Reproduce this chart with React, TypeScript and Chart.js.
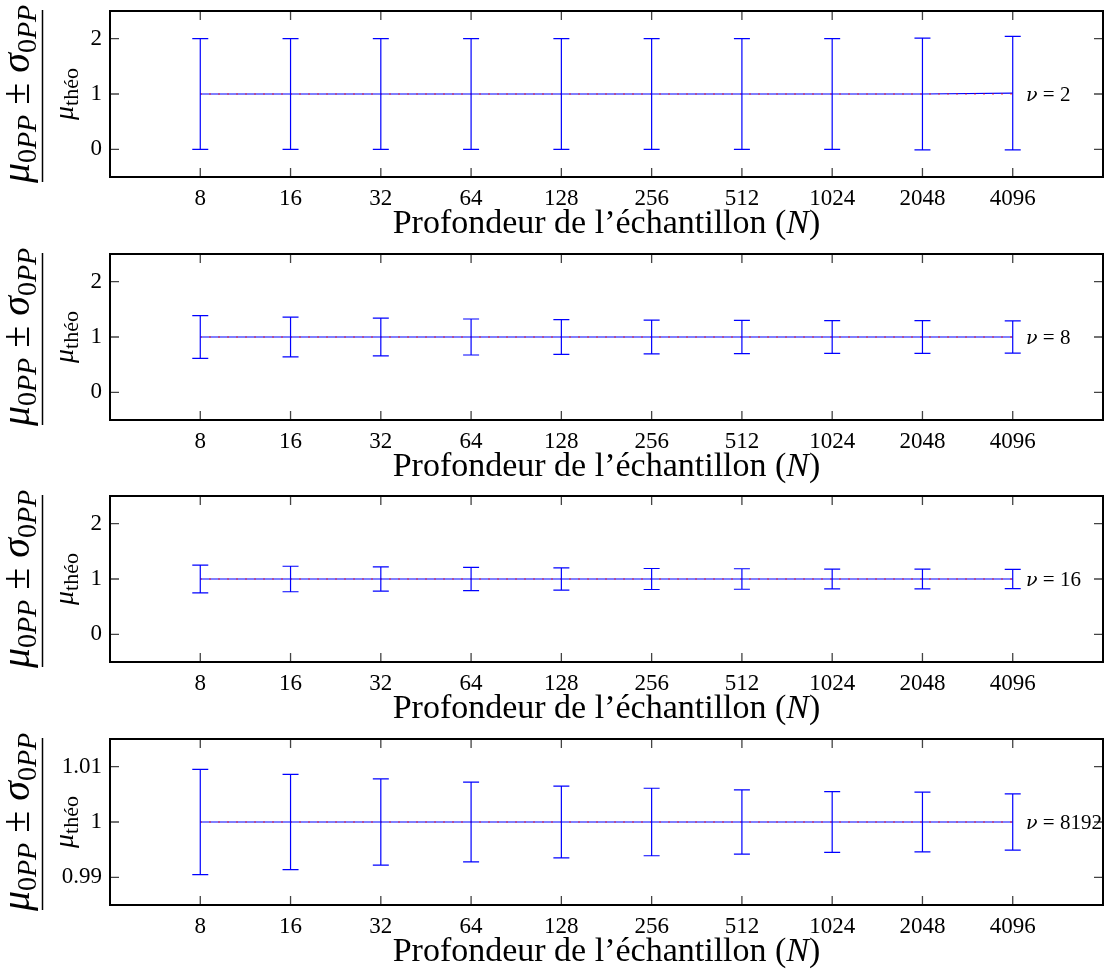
import React, { useEffect, useRef } from "react";
import { Chart, registerables } from "chart.js";

Chart.register(...registerables);

// ---------- data ----------
const depthLabels = ["8", "16", "32", "64", "128", "256", "512", "1024", "2048", "4096"];
const theoValue = 1;

const mean_nu2 = [1, 1, 1, 1, 1, 1, 1, 1, 1.0, 1.015];
const sd_nu2 = [1, 1, 1, 1, 1, 1, 1, 1.0, 1.01, 1.025];

const mean_nu8 = [1, 1, 1, 1, 1, 1, 1, 1, 1, 1];
const sd_nu8 = [0.385, 0.36, 0.34, 0.325, 0.315, 0.305, 0.3, 0.297, 0.295, 0.29];

const mean_nu16 = [1, 1, 1, 1, 1, 1, 1, 1, 1, 1];
const sd_nu16 = [0.25, 0.23, 0.22, 0.21, 0.2, 0.19, 0.185, 0.18, 0.178, 0.175];

const mean_nu8192 = [1, 1, 1, 1, 1, 1, 1, 1, 1, 1];
const sd_nu8192 = [0.0095, 0.0086, 0.0078, 0.0072, 0.0065, 0.0061, 0.0058, 0.0055, 0.0054, 0.0051];

const yTicksWide = [0, 1, 2];
const yTickLabelsWide = ["0", "1", "2"];
const yTicksNarrow = [0.99, 1, 1.01];
const yTickLabelsNarrow = ["0.99", "1", "1.01"];

const nuLabels = ["2", "8", "16", "8192"];

const xTitle = "Profondeur de l\u2019\u00e9chantillon";

// ---------- styling ----------
const FONT = "'Liberation Serif', 'DejaVu Serif', serif";
const GREEK = "'DejaVu Serif', 'Liberation Serif', serif";
const BLUE = "#0000ff";
const CANVAS_W = 1104;
const CANVAS_H = 243;
const PANEL_TOPS = [0, 243, 485, 728];

type Piece = { t: string; it?: boolean; size: number; dy?: number; fam?: string };

function fontOf(p: Piece) {
  return `${p.it ? "italic " : ""}${p.size}px ${p.fam || FONT}`;
}

function drawRotated(ctx: CanvasRenderingContext2D, pieces: Piece[], xBase: number, cy: number) {
  ctx.save();
  ctx.translate(xBase, cy);
  ctx.rotate(-Math.PI / 2);
  ctx.textBaseline = "alphabetic";
  ctx.textAlign = "left";
  ctx.fillStyle = "#000";
  let total = 0;
  const widths = pieces.map((p) => {
    ctx.font = fontOf(p);
    const w = ctx.measureText(p.t).width;
    total += w;
    return w;
  });
  let x = -total / 2;
  pieces.forEach((p, i) => {
    ctx.font = fontOf(p);
    ctx.fillText(p.t, x, p.dy || 0);
    x += widths[i];
  });
  ctx.restore();
}

function drawInline(ctx: CanvasRenderingContext2D, pieces: Piece[], x0: number, y: number, align: "left" | "center") {
  ctx.save();
  ctx.textBaseline = "alphabetic";
  ctx.textAlign = "left";
  ctx.fillStyle = "#000";
  let total = 0;
  const widths = pieces.map((p) => {
    ctx.font = fontOf(p);
    const w = ctx.measureText(p.t).width;
    total += w;
    return w;
  });
  let x = align === "center" ? x0 - total / 2 : x0;
  pieces.forEach((p, i) => {
    ctx.font = fontOf(p);
    ctx.fillText(p.t, x, y + (p.dy || 0));
    x += widths[i];
  });
  ctx.restore();
}

type PanelProps = {
  mean: number[];
  sd: number[];
  yMin: number;
  yMax: number;
  yTicks: number[];
  yTickLabels: string[];
  nu: string;
  top: number;
};

function Panel({ mean, sd, yMin, yMax, yTicks, yTickLabels, nu, top }: PanelProps) {
  const ref = useRef<HTMLCanvasElement>(null);

  useEffect(() => {
    const canvas = ref.current;
    if (!canvas) return;
    const xIdx = depthLabels.map((_, i) => i);
    const meanPts = xIdx.map((i) => ({ x: i, y: mean[i] }));
    const theoPts = [
      { x: 0, y: theoValue },
      { x: xIdx.length - 1, y: theoValue },
    ];

    const decor = {
      id: "decor",
      afterDatasetsDraw(chart: any) {
        const { ctx, scales } = chart;
        const x = scales.x;
        const y = scales.y;
        ctx.save();
        ctx.strokeStyle = BLUE;
        ctx.lineWidth = 1.2;
        xIdx.forEach((i) => {
          const px = x.getPixelForValue(i);
          const hi = y.getPixelForValue(mean[i] + sd[i]);
          const lo = y.getPixelForValue(mean[i] - sd[i]);
          ctx.beginPath();
          ctx.moveTo(px, hi);
          ctx.lineTo(px, lo);
          ctx.moveTo(px - 8, hi);
          ctx.lineTo(px + 8, hi);
          ctx.moveTo(px - 8, lo);
          ctx.lineTo(px + 8, lo);
          ctx.stroke();
        });
        ctx.restore();
      },
      afterDraw(chart: any) {
        const { ctx, chartArea: ca, scales } = chart;
        const x = scales.x;
        const y = scales.y;
        ctx.save();
        // inward ticks
        ctx.strokeStyle = "#444";
        ctx.lineWidth = 1.3;
        const TL = 9;
        xIdx.forEach((i) => {
          const px = x.getPixelForValue(i);
          ctx.beginPath();
          ctx.moveTo(px, ca.bottom);
          ctx.lineTo(px, ca.bottom - TL);
          ctx.moveTo(px, ca.top);
          ctx.lineTo(px, ca.top + TL);
          ctx.stroke();
        });
        yTicks.forEach((v) => {
          const py = y.getPixelForValue(v);
          ctx.beginPath();
          ctx.moveTo(ca.left, py);
          ctx.lineTo(ca.left + TL, py);
          ctx.moveTo(ca.right, py);
          ctx.lineTo(ca.right - TL, py);
          ctx.stroke();
        });
        // frame
        ctx.strokeStyle = "#000";
        ctx.lineWidth = 2;
        ctx.strokeRect(ca.left, ca.top, ca.right - ca.left, ca.bottom - ca.top);
        ctx.restore();

        // x title
        const cx = (ca.left + ca.right) / 2;
        drawInline(
          ctx,
          [
            { t: xTitle + " (", size: 34 },
            { t: "N", size: 34, it: true },
            { t: ")", size: 34 },
          ],
          cx,
          ca.bottom + 56,
          "center"
        );

        // y label (fraction)
        const cy = (ca.top + ca.bottom) / 2;
        drawRotated(
          ctx,
          [
            { t: "\u03bc", it: true, size: 40 },
            { t: "0", size: 28, dy: 7 },
            { t: "PP", it: true, size: 28, dy: 7 },
            { t: " \u00b1 ", size: 40 },
            { t: "\u03c3", it: true, size: 40 },
            { t: "0", size: 28, dy: 7 },
            { t: "PP", it: true, size: 28, dy: 7 },
          ],
          29,
          cy
        );
        ctx.save();
        ctx.strokeStyle = "#000";
        ctx.lineWidth = 1.5;
        ctx.beginPath();
        ctx.moveTo(42.5, cy - 84);
        ctx.lineTo(42.5, cy + 88);
        ctx.stroke();
        ctx.restore();
        drawRotated(
          ctx,
          [
            { t: "\u03bc", it: true, size: 28 },
            { t: "th\u00e9o", size: 22, dy: 5 },
          ],
          73,
          cy
        );

        // nu annotation
        const yOne = y.getPixelForValue(theoValue);
        drawInline(
          ctx,
          [
            { t: "\u03bd", it: true, size: 19, fam: GREEK },
            { t: " = " + nu, size: 21 },
          ],
          1026,
          yOne + 7,
          "left"
        );
      },
    };

    const chart = new Chart(canvas, {
      type: "scatter",
      data: {
        datasets: [
          {
            label: "th\u00e9orique",
            data: theoPts,
            showLine: true,
            borderColor: "#ff0000",
            borderDash: [1.5, 7.5],
            borderWidth: 1,
            pointRadius: 0,
          },
          {
            label: "moyenne",
            data: meanPts,
            showLine: true,
            borderColor: BLUE,
            borderWidth: 1.2,
            pointRadius: 0,
          },
        ],
      },
      options: {
        responsive: false,
        animation: false,
        devicePixelRatio: 1,
        layout: { padding: { top: 11, right: 1, left: 0, bottom: 0 } },
        plugins: { legend: { display: false }, tooltip: { enabled: false } },
        scales: {
          x: {
            type: "linear",
            min: -1,
            max: 10,
            grid: { display: false, drawTicks: false },
            border: { display: false },
            afterBuildTicks: (s: any) => {
              s.ticks = xIdx.map((v) => ({ value: v }));
            },
            afterFit: (s: any) => {
              s.height = 66;
              s.paddingLeft = 0;
              s.paddingRight = 0;
              s.paddingTop = 0;
              s.paddingBottom = 0;
            },
            ticks: {
              autoSkip: false,
              maxRotation: 0,
              padding: 8,
              color: "#000",
              font: { family: FONT, size: 23 },
              callback: (v: any) => depthLabels[v as number] ?? "",
            },
          },
          y: {
            type: "linear",
            min: yMin,
            max: yMax,
            grid: { display: false, drawTicks: false },
            border: { display: false },
            afterBuildTicks: (s: any) => {
              s.ticks = yTicks.map((v) => ({ value: v }));
            },
            afterFit: (s: any) => {
              s.width = 110;
              s.paddingLeft = 0;
              s.paddingRight = 0;
              s.paddingTop = 0;
              s.paddingBottom = 0;
            },
            ticks: {
              padding: 8,
              color: "#000",
              font: { family: FONT, size: 23 },
              callback: (_v: any, i: number) => yTickLabels[i],
            },
          },
        },
      },
      plugins: [decor],
    } as any);

    return () => chart.destroy();
  }, [mean, sd, yMin, yMax, yTicks, yTickLabels, nu]);

  return (
    <canvas
      ref={ref}
      width={CANVAS_W}
      height={CANVAS_H}
      style={{ position: "absolute", left: 0, top, width: CANVAS_W, height: CANVAS_H, display: "block" }}
    />
  );
}

export default function App() {
  return (
    <div style={{ position: "absolute", left: 0, top: 0, width: 1104, height: 971, background: "#fff" }}>
      <Panel mean={mean_nu2} sd={sd_nu2} yMin={-0.5} yMax={2.5} yTicks={yTicksWide} yTickLabels={yTickLabelsWide} nu={nuLabels[0]} top={PANEL_TOPS[0]} />
      <Panel mean={mean_nu8} sd={sd_nu8} yMin={-0.5} yMax={2.5} yTicks={yTicksWide} yTickLabels={yTickLabelsWide} nu={nuLabels[1]} top={PANEL_TOPS[1]} />
      <Panel mean={mean_nu16} sd={sd_nu16} yMin={-0.5} yMax={2.5} yTicks={yTicksWide} yTickLabels={yTickLabelsWide} nu={nuLabels[2]} top={PANEL_TOPS[2]} />
      <Panel mean={mean_nu8192} sd={sd_nu8192} yMin={0.985} yMax={1.015} yTicks={yTicksNarrow} yTickLabels={yTickLabelsNarrow} nu={nuLabels[3]} top={PANEL_TOPS[3]} />
    </div>
  );
}
